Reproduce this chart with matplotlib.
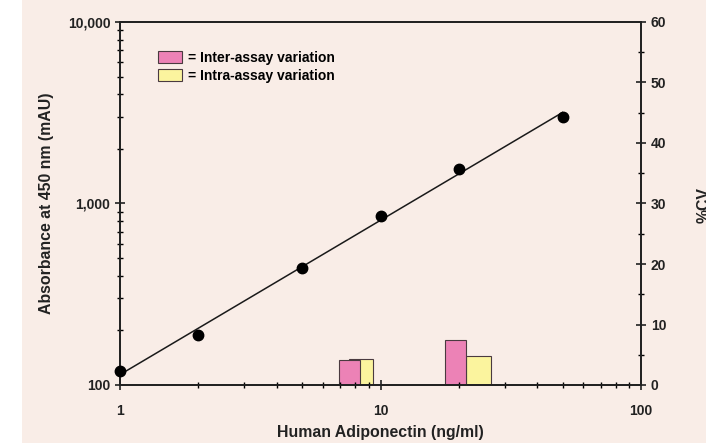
import numpy as np
import matplotlib.pyplot as plt
from matplotlib.patches import Rectangle, Patch
from matplotlib.ticker import FixedLocator, NullFormatter, LogLocator

plt.rcParams['font.family'] = ['Liberation Sans', 'DejaVu Sans']
plt.rcParams['font.weight'] = 'bold'

# standard curve
conc = [1, 2, 5, 10, 20, 50]
absorbance = [119, 189, 441, 853, 1550, 2997]

# %CV for the two control samples (bar positions on the concentration axis)
inter_x = [7.6, 19.4]
inter_cv = [4.1, 7.5]
intra_x = [8.4, 23.8]
intra_cv = [4.25, 4.8]

bg = '#F9EDE7'
pink = '#EC82B6'
yellow = '#FBF49E'
ink = '#222222'

fig = plt.figure(figsize=(7.06, 4.43), dpi=100)
fig.patch.set_facecolor('white')
fig.patches.append(Rectangle((22 / 706, 0), 1, 1, transform=fig.transFigure,
                             facecolor=bg, edgecolor='none', zorder=-10))

ax = fig.add_axes([120 / 706, 58 / 443, 521 / 706, 363 / 443])
ax.set_facecolor(bg)
ax2 = ax.twinx()

# bars (%CV) on log x: yellow drawn first, pink on top
def log_bars(a, xs, hs, half, color):
    xs = np.array(xs, dtype=float)
    a.bar(xs / half, hs, width=xs * half - xs / half, align='edge',
          color=color, edgecolor='#4a3a40', linewidth=0.8)

log_bars(ax2, intra_x, intra_cv, 1.113, yellow)
log_bars(ax2, inter_x, inter_cv, 1.097, pink)
ax2.set_ylim(0, 60)

# standard curve, log-log fit
x = np.array(conc, dtype=float)
y = np.array(absorbance, dtype=float)
k, b = np.polyfit(np.log10(x), np.log10(y), 1)
xf = np.array([1, 50])
ax.plot(xf, 10 ** (b + k * np.log10(xf)), color='#1a1a1a', lw=1.1, zorder=3)
ax.plot(x, y, 'o', color='black', ms=7.5, zorder=4, clip_on=False)

ax.set_xscale('log')
ax.set_yscale('log')
ax.set_xlim(1, 100)
ax.set_ylim(100, 10000)
ax.set_zorder(ax2.get_zorder() + 1)
ax.patch.set_visible(False)
ax2.patch.set_visible(False)

ax.set_xticks([1, 10, 100])
ax.set_xticklabels(['1', '10', '100'])
ax.set_yticks([100, 1000, 10000])
ax.set_yticklabels(['100', '1,000', '10,000'])
ax.xaxis.set_minor_locator(LogLocator(subs=np.arange(2, 10)))
ax.yaxis.set_minor_locator(LogLocator(subs=np.arange(2, 10)))
ax.xaxis.set_minor_formatter(NullFormatter())
ax.yaxis.set_minor_formatter(NullFormatter())
ax.tick_params(which='major', direction='inout', length=7, width=1.2,
               labelsize=10, colors=ink)
ax.tick_params(axis='x', which='major', pad=10)
ax.tick_params(which='minor', direction='inout', length=4, width=1)

ax2.set_yticks([0, 10, 20, 30, 40, 50, 60])
ax2.yaxis.set_minor_locator(FixedLocator([5, 15, 25, 35, 45, 55]))
ax2.tick_params(which='major', direction='inout', length=7, width=1.2,
                labelsize=10, colors=ink)
ax2.tick_params(which='minor', direction='inout', length=5, width=1)

for a in (ax, ax2):
    for s in a.spines.values():
        s.set_linewidth(1.3)
        s.set_color(ink)

ax.set_xlabel('Human Adiponectin (ng/ml)', fontsize=11.4, fontweight='bold',
              color=ink)
ax.xaxis.set_label_coords(0.5, -48 / 363, transform=ax.transAxes)
ax.xaxis.label.set_va('center')
ax.set_ylabel('Absorbance at 450 nm (mAU)', fontsize=11.4, fontweight='bold',
              color=ink)
ax.yaxis.set_label_coords(-73 / 521, 0.5, transform=ax.transAxes)
ax.yaxis.label.set_va('center')
# the reference itself has %CV cut at the right edge
fig.text(697 / 706, 1 - 205 / 443, '%CV', rotation=90, fontsize=11.4,
         fontweight='bold', color=ink, ha='left', va='center')

handles = [Patch(facecolor=pink, edgecolor='#4a3a40', lw=0.8),
           Patch(facecolor=yellow, edgecolor='#4a3a40', lw=0.8)]
ax.legend(handles, ['= Inter-assay variation', '= Intra-assay variation'],
          loc='upper left', bbox_to_anchor=(31 / 521, 1 - 22 / 363),
          frameon=False, fontsize=10, handlelength=1.7, handleheight=0.95,
          handletextpad=0.5, labelspacing=0.3, borderpad=0)

fig.savefig('out.png', dpi=100, facecolor=fig.get_facecolor())
